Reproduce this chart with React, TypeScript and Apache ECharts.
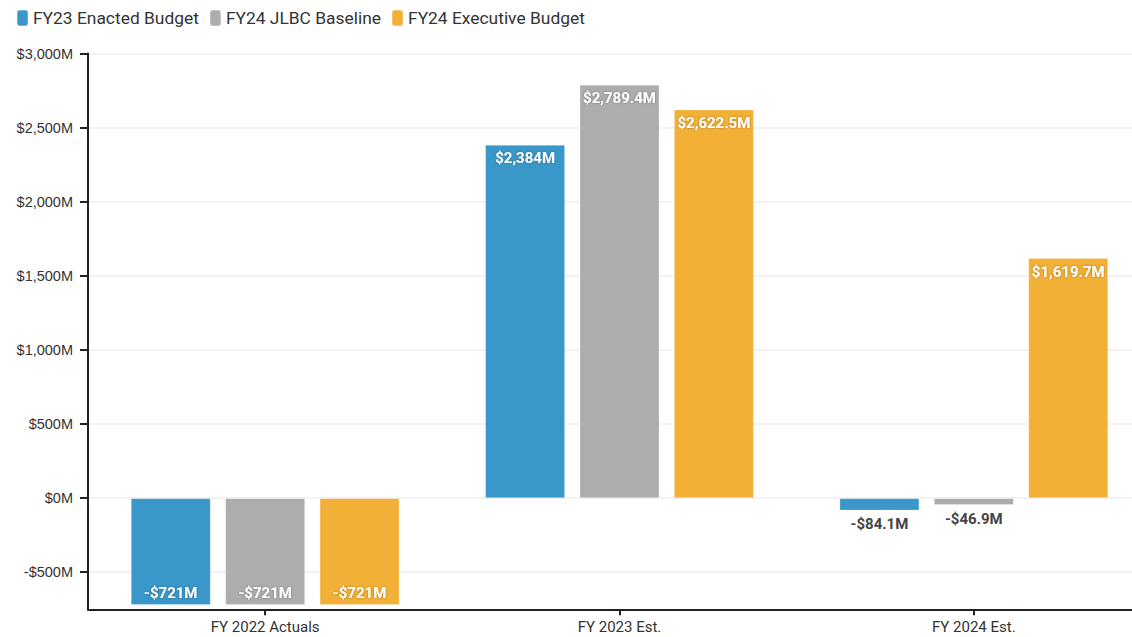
import React, { useEffect, useRef } from "react";
import * as echarts from "echarts";

const categories = ["FY 2022 Actuals", "FY 2023 Est.", "FY 2024 Est."];
const seriesNames = ["FY23 Enacted Budget", "FY24 JLBC Baseline", "FY24 Executive Budget"];
const enacted = [-721, 2384, -84.1];
const jlbc = [-721, 2789.4, -46.9];
const executive = [-721, 2622.5, 1619.7];
const seriesColors = ["#3a97c9", "#adadad", "#f2b036"];

function fmtVal(v: number): string {
  const abs = Math.abs(v);
  const s = Number.isInteger(abs)
    ? abs.toLocaleString("en-US")
    : abs.toLocaleString("en-US", { minimumFractionDigits: 1, maximumFractionDigits: 1 });
  return (v < 0 ? "-$" : "$") + s + "M";
}

function buildData(values: number[]) {
  return values.map((v) => {
    if (v >= 0) {
      return {
        value: v,
        label: {
          position: "insideTop",
          distance: 6,
          color: "#ffffff",
          textShadowColor: "rgba(0,0,0,0.35)",
          textShadowBlur: 2,
        },
      };
    }
    if (v < -300) {
      return {
        value: v,
        label: {
          position: "insideBottom",
          distance: 5,
          color: "#ffffff",
          textShadowColor: "rgba(0,0,0,0.35)",
          textShadowBlur: 2,
        },
      };
    }
    return {
      value: v,
      label: { position: "bottom", distance: 6, color: "#444444" },
    };
  });
}

export default function App() {
  const ref = useRef<HTMLDivElement>(null);
  useEffect(() => {
    if (!ref.current) return;
    const chart = echarts.init(ref.current, null, { renderer: "svg" });
    const allValues = [enacted, jlbc, executive];
    chart.setOption({
      animation: false,
      textStyle: { fontFamily: "Roboto" },
      legend: {
        left: 16,
        top: 9,
        padding: 0,
        itemWidth: 11,
        itemHeight: 16,
        itemGap: 10,
        icon: "roundRect",
        textStyle: { fontSize: 17.4, color: "#333333", fontFamily: "Roboto" },
        data: seriesNames,
      },
      grid: { left: 88, right: 0, top: 53.5, bottom: 27.7, containLabel: false },
      xAxis: {
        type: "category",
        data: categories,
        axisLine: { onZero: false, lineStyle: { color: "#222222", width: 2 } },
        axisTick: { show: true, alignWithLabel: true, length: 6, lineStyle: { color: "#222222", width: 2 } },
        axisLabel: { color: "#333333", fontSize: 15, margin: 10, fontFamily: "Roboto" },
        splitLine: { show: false },
      },
      yAxis: {
        type: "value",
        min: -750,
        max: 3000,
        splitNumber: 8,
        minInterval: 500,
        maxInterval: 500,
        axisLine: { show: true, lineStyle: { color: "#222222", width: 2 } },
        axisTick: { show: true, length: 8, lineStyle: { color: "#222222", width: 2 } },
        axisLabel: {
          color: "#333333",
          fontSize: 14.5,
          margin: 15,
          fontFamily: "Liberation Sans",
          showMinLabel: false,
          formatter: (v: number) => (v % 500 === 0 ? (v < 0 ? "-$" : "$") + Math.abs(v).toLocaleString("en-US") + "M" : ""),
        },
        splitLine: { show: true, lineStyle: { color: "#eeeeee", width: 1.5 } },
      },
      series: seriesNames.map((name, i) => ({
        name,
        type: "bar",
        barWidth: 80,
        barGap: "18%",
        itemStyle: { color: seriesColors[i], borderColor: "rgba(255,255,255,0.25)", borderWidth: 1 },
        label: {
          show: true,
          fontSize: 15,
          fontWeight: "bold",
          fontFamily: "Roboto",
          formatter: (p: any) => fmtVal(p.value),
        },
        data: buildData(allValues[i]),
      })),
    });
    return () => chart.dispose();
  }, []);
  return (
    <div
      ref={ref}
      style={{ position: "fixed", left: 0, top: 0, width: 1151, height: 637, background: "#ffffff" }}
    />
  );
}
